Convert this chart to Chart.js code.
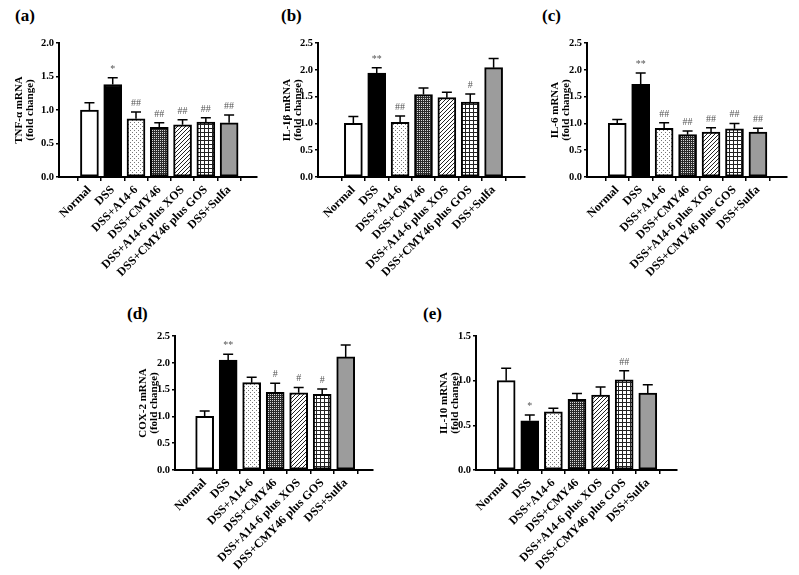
<!DOCTYPE html>
<html>
<head>
<meta charset="utf-8">
<script src="https://cdn.jsdelivr.net/npm/chart.js@4"></script>
<style>
  body { margin: 0; background: #fff; }
  #wrap { position: relative; width: 799px; height: 575px; overflow: hidden; background: #fff; }
  canvas { position: absolute; }
  .tag { position: absolute; font: bold 17px 'Liberation Serif', serif; line-height: 17px; color: #000; }
</style>
</head>
<body>
<div id="wrap">
  <div class="tag" style="left:15px;top:7px">(a)</div>
  <div class="tag" style="left:281px;top:7px">(b)</div>
  <div class="tag" style="left:542px;top:7px">(c)</div>
  <div class="tag" style="left:127px;top:305px">(d)</div>
  <div class="tag" style="left:423px;top:305px">(e)</div>
  <canvas id="cA" width="265" height="290" style="left:0px;top:0px"></canvas>
  <canvas id="cB" width="268" height="290" style="left:265px;top:0px"></canvas>
  <canvas id="cC" width="266" height="290" style="left:533px;top:0px"></canvas>
  <canvas id="cD" width="285" height="285" style="left:100px;top:290px"></canvas>
  <canvas id="cE" width="300" height="285" style="left:390px;top:290px"></canvas>
</div>
<script>
// ---- data ----
const groups = ['Normal', 'DSS', 'DSS+A14-6', 'DSS+CMY46', 'DSS+A14-6 plus XOS', 'DSS+CMY46 plus GOS', 'DSS+Sulfa'];

const tnfMean = [1.00, 1.38, 0.87, 0.74, 0.78, 0.82, 0.81];
const tnfSem  = [0.11, 0.10, 0.10, 0.07, 0.075, 0.065, 0.115];
const tnfSig  = ['', '*', '##', '##', '##', '##', '##'];

const il1bMean = [1.00, 1.94, 1.02, 1.54, 1.48, 1.40, 2.04];
const il1bSem  = [0.13, 0.10, 0.12, 0.12, 0.10, 0.15, 0.17];
const il1bSig  = ['', '**', '##', '', '', '#', ''];

const il6Mean = [1.00, 1.73, 0.91, 0.79, 0.84, 0.90, 0.84];
const il6Sem  = [0.075, 0.21, 0.10, 0.07, 0.08, 0.10, 0.07];
const il6Sig  = ['', '**', '##', '##', '##', '##', '##'];

const coxMean = [1.00, 2.05, 1.63, 1.45, 1.44, 1.41, 2.11];
const coxSem  = [0.10, 0.11, 0.10, 0.17, 0.10, 0.10, 0.22];
const coxSig  = ['', '**', '', '#', '#', '#', ''];

const il10Mean = [1.00, 0.55, 0.65, 0.79, 0.84, 1.01, 0.86];
const il10Sem  = [0.14, 0.065, 0.04, 0.065, 0.09, 0.10, 0.095];
const il10Sig  = ['', '*', '', '', '', '##', ''];

// ---- fills ----
function makePattern(size, bg, draw) {
  const c = document.createElement('canvas');
  c.width = c.height = size;
  const g = c.getContext('2d');
  g.fillStyle = bg;
  g.fillRect(0, 0, size, size);
  draw(g);
  return g.createPattern(c, 'repeat');
}
const fills = [
  '#ffffff',
  '#000000',
  // sparse dots
  makePattern(4, '#fff', g => { g.fillStyle = '#777'; g.fillRect(0, 0, 1, 1); g.fillRect(2, 2, 1, 1); }),
  // dense dark checker
  makePattern(2, '#2a2a2a', g => { g.fillStyle = '#d8d8d8'; g.fillRect(0, 0, 1, 1); }),
  // diagonal hatch
  makePattern(4, '#fff', g => { g.fillStyle = '#222'; g.fillRect(3, 0, 1, 1); g.fillRect(2, 1, 1, 1); g.fillRect(1, 2, 1, 1); g.fillRect(0, 3, 1, 1); }),
  // square grid
  makePattern(4, '#fff', g => { g.fillStyle = '#222'; g.fillRect(0, 0, 4, 1); g.fillRect(0, 0, 1, 4); }),
  '#9c9c9c'
];

// ---- panel layout (absolute page coordinates) ----
const panels = [
  { id: 'cA', L: 0,   T: 0,   W: 265, H: 290, axisX: 59,  axisTop: 43,  axisBottom: 177, axisRight: 257, titleX: 19,
    ytitle: 'TNF-α mRNA', mean: tnfMean, sem: tnfSem, sig: tnfSig, yMax: 2.0, xMin: -0.70, xMax: 6.59 },
  { id: 'cB', L: 265, T: 0,   W: 268, H: 290, axisX: 318, axisTop: 43,  axisBottom: 177, axisRight: 525, titleX: 287,
    ytitle: 'IL-1β mRNA', mean: il1bMean, sem: il1bSem, sig: il1bSig, yMax: 2.5, xMin: -0.88, xMax: 6.71 },
  { id: 'cC', L: 533, T: 0,   W: 266, H: 290, axisX: 587, axisTop: 43,  axisBottom: 177, axisRight: 787, titleX: 555,
    ytitle: 'IL-6 mRNA', mean: il6Mean, sem: il6Sem, sig: il6Sig, yMax: 2.5, xMin: -0.68, xMax: 6.63 },
  { id: 'cD', L: 100, T: 290, W: 285, H: 285, axisX: 175, axisTop: 336, axisBottom: 470, axisRight: 373, titleX: 143,
    ytitle: 'COX-2 mRNA', mean: coxMean, sem: coxSem, sig: coxSig, yMax: 2.5, xMin: -0.66, xMax: 6.56 },
  { id: 'cE', L: 390, T: 290, W: 300, H: 285, axisX: 476, axisTop: 336, axisBottom: 470, axisRight: 677, titleX: 444,
    ytitle: 'IL-10 mRNA', mean: il10Mean, sem: il10Sem, sig: il10Sig, yMax: 1.5, xMin: -0.67, xMax: 6.63 }
];

const serif = "'Liberation Serif', 'Times New Roman', serif";

// error bars (upper only) + significance marks
function errorBarPlugin(p) {
  return {
    id: 'errorBars',
    afterDatasetsDraw(chart) {
      const ctx = chart.ctx;
      const yScale = chart.scales.y;
      const meta = chart.getDatasetMeta(0);
      ctx.save();
      ctx.strokeStyle = '#000';
      ctx.lineWidth = 1.5;
      ctx.fillStyle = '#555';
      ctx.font = '10px ' + serif;
      ctx.textAlign = 'center';
      ctx.textBaseline = 'alphabetic';
      meta.data.forEach((bar, i) => {
        const top = yScale.getPixelForValue(p.mean[i] + p.sem[i]);
        ctx.beginPath();
        ctx.moveTo(bar.x, bar.y);
        ctx.lineTo(bar.x, top);
        ctx.moveTo(bar.x - 5, top);
        ctx.lineTo(bar.x + 5, top);
        ctx.stroke();
        if (p.sig[i]) ctx.fillText(p.sig[i], bar.x, top - 6);
      });
      ctx.restore();
    }
  };
}

panels.forEach(p => {
  const lineH = 11;
  const padLeft = p.titleX - lineH / 2 - 4 - p.L;
  const yWidth = p.axisX - (p.L + padLeft);
  const xHeight = p.T + p.H - p.axisBottom;

  new Chart(document.getElementById(p.id), {
    type: 'bar',
    data: {
      datasets: [{
        data: p.mean.map((v, i) => ({ x: i, y: v })),
        backgroundColor: fills,
        borderColor: '#000',
        borderWidth: 2,
        borderSkipped: false,
        barThickness: 18
      }]
    },
    options: {
      responsive: false,
      animation: false,
      events: [],
      layout: { padding: { left: padLeft, top: p.axisTop - p.T, right: p.L + p.W - p.axisRight, bottom: 0 } },
      plugins: { legend: { display: false }, tooltip: { enabled: false } },
      scales: {
        x: {
          type: 'linear',
          min: p.xMin,
          max: p.xMax,
          afterBuildTicks: s => { s.ticks = groups.map((g, i) => ({ value: i })); },
          afterFit: s => { s.height = xHeight; },
          border: { color: '#000', width: 2 },
          grid: { drawOnChartArea: false, tickLength: 4, color: '#000', lineWidth: 1.5 },
          ticks: {
            autoSkip: false,
            minRotation: 45,
            maxRotation: 45,
            padding: 2,
            color: '#000',
            font: { family: serif, size: 12, weight: 'bold' },
            callback: v => groups[v]
          }
        },
        y: {
          min: 0,
          max: p.yMax,
          afterFit: s => { s.width = yWidth; },
          border: { color: '#000', width: 2 },
          grid: { drawOnChartArea: false, tickLength: 3, color: '#000', lineWidth: 1.5 },
          ticks: {
            stepSize: 0.5,
            padding: 2,
            color: '#000',
            font: { family: serif, size: 10.5, weight: 'bold' },
            callback: v => v.toFixed(1)
          },
          title: {
            display: true,
            text: [p.ytitle, '(fold change)'],
            color: '#000',
            padding: { top: 4, bottom: 0 },
            font: { family: serif, size: 11, weight: 'bold', lineHeight: 1 }
          }
        }
      }
    },
    plugins: [errorBarPlugin(p)]
  });
});
</script>
</body>
</html>
